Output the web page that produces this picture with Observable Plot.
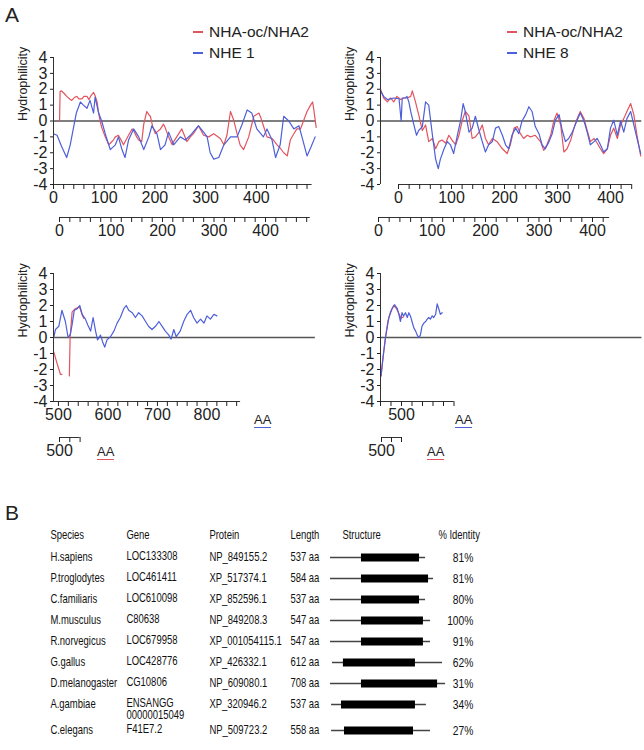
<!DOCTYPE html>
<html><head><meta charset="utf-8">
<script src="https://cdn.jsdelivr.net/npm/d3@7"></script>
<script src="https://cdn.jsdelivr.net/npm/@observablehq/plot@0.6"></script>
<style>
body{margin:0;background:#fff;}
#fig{position:relative;width:644px;height:750px;overflow:hidden;background:#fff;font-family:"Liberation Sans",Arial,sans-serif;color:#222;}
#fig > *{position:absolute;}
#fig svg{max-width:none !important;}
.lg{display:flex;align-items:center;font-size:15.5px;height:20px;white-space:nowrap;line-height:20px;}
.lg i{display:inline-block;width:10px;height:1.5px;margin-right:6px;}
.aa{font-size:13px;line-height:13px;padding-bottom:1px;}
.pl{font-size:21px;line-height:21px;}
</style></head><body><div id="fig"></div><script>
// ---------- Panel A data: [position, hydrophilicity] ----------
const tlNha2 = [[12,0.0],[13,1.85],[16,1.9],[22,1.7],[26,1.55],[33,1.35],[36,1.3],[42,1.5],[46,1.55],[50,1.4],[56,1.4],[60,1.55],[66,1.55],[70,1.35],[74,1.6],[79,1.8],[82,1.6],[86,1.2],[89,0.5],[92,0.0],[95,-0.4],[102,-1.0],[109,-1.5],[112,-1.4],[118,-1.2],[122,-1.0],[128,-0.9],[135,-1.3],[138,-1.5],[148,-0.9],[155,-0.5],[158,-0.6],[164,-1.0],[168,-1.2],[174,-1.3],[178,-0.2],[184,0.6],[188,0.4],[191,0.3],[196,-0.4],[201,-0.8],[204,-0.7],[211,-0.5],[217,-0.2],[220,-0.4],[227,-1.0],[234,-1.5],[237,-1.3],[243,-1.0],[253,-0.5],[258,-0.9],[263,-1.3],[270,-1.0],[276,-0.8],[286,-0.3],[296,-0.9],[306,-1.0],[316,-0.8],[329,-1.1],[336,-1.5],[342,-0.9],[349,0.6],[355,0.1],[362,-0.8],[368,-1.5],[375,-1.8],[385,-1.0],[395,0.3],[405,0.5],[409,0.2],[414,-0.3],[421,-1.0],[431,-1.1],[441,-1.5],[447,-1.7],[454,-2.0],[461,-2.2],[467,-1.2],[474,-0.8],[480,-0.5],[487,-0.5],[493,0.0],[500,0.6],[507,1.0],[511,1.2],[513,0.8],[518,-0.4]];
const tlNhe1 = [[0,-0.8],[7,-0.9],[16,-1.6],[26,-2.3],[33,-1.5],[39,-0.5],[45,0.5],[53,1.2],[59,1.0],[66,0.8],[72,1.3],[79,0.5],[82,1.5],[89,0.5],[95,0.0],[102,-0.8],[112,-1.8],[122,-1.5],[128,-1.0],[135,-1.8],[141,-2.3],[148,-1.2],[158,-0.5],[168,-1.0],[178,-1.8],[188,-1.0],[194,-0.3],[204,-0.8],[211,-1.8],[220,-1.5],[227,-0.7],[237,-1.5],[250,-1.0],[260,-1.2],[270,-0.9],[286,-0.3],[296,-0.7],[303,-1.0],[309,-2.0],[316,-2.4],[326,-2.3],[336,-1.5],[349,-1.0],[362,-1.0],[372,-0.2],[382,0.7],[391,0.5],[401,-0.5],[414,-1.0],[421,-0.5],[431,-1.2],[438,-2.3],[447,-1.5],[454,0.3],[464,0.0],[474,-0.5],[484,-0.3],[490,-1.0],[500,-2.2],[507,-1.7],[516,-1.0]];
const trNha2 = [[-34,2.0],[-28,1.45],[-21,1.2],[-15,1.45],[-9,1.2],[-3,1.55],[4,1.35],[10,1.45],[16,1.45],[23,1.55],[26,1.9],[32,1.2],[38,0.4],[45,-0.6],[51,-0.25],[57,-1.3],[64,-1.1],[70,-1.75],[76,-1.3],[82,-1.2],[89,-1.4],[95,-0.9],[101,-1.2],[108,-1.5],[114,-0.9],[120,0.0],[126,0.6],[133,0.3],[139,-1.1],[145,-1.0],[152,-0.7],[158,-0.25],[164,-1.1],[170,-1.5],[177,-1.1],[186,-1.3],[196,-1.75],[205,-2.05],[211,-1.5],[218,-0.45],[224,-0.35],[230,-0.8],[236,-1.1],[243,-0.9],[249,-1.0],[258,-0.9],[268,-1.3],[274,-1.85],[280,-1.5],[287,-0.9],[293,0.0],[299,0.5],[306,-0.25],[312,-1.95],[318,-1.75],[325,-1.2],[331,-0.45],[337,0.15],[343,0.6],[350,0.15],[356,-0.6],[362,-1.3],[369,-1.1],[375,-1.4],[381,-1.75],[387,-2.05],[394,-1.75],[400,-0.9],[406,-0.45],[413,-1.1],[419,-0.25],[425,0.15],[431,0.6],[438,1.1],[444,0.4],[450,-0.9],[457,-2.2]];
const trNhe8 = [[-34,1.9],[-28,1.55],[-21,1.35],[-9,1.45],[1,1.4],[5,0.0],[7,1.45],[13,1.45],[16,1.55],[19.5,1.2],[23,0.6],[29,-0.25],[34,-0.9],[38,-0.6],[45,-0.35],[51,1.2],[57,1.0],[64,-0.9],[70,-2.4],[75,-3.0],[79,-2.4],[86,-1.75],[92,-1.3],[98,-1.5],[104,-2.05],[111,-0.9],[117,0.0],[122,1.1],[126,0.6],[133,-0.7],[139,-0.45],[145,0.3],[152,-0.6],[158,-1.3],[164,-1.95],[170,-1.5],[177,-1.3],[183,-0.45],[189,-0.35],[196,-0.9],[202,-1.5],[208,-1.75],[214,-0.9],[221,-0.45],[227,-0.8],[233,0.0],[240,0.4],[246,0.9],[252,0.6],[258,-0.35],[265,-0.8],[271,-1.5],[277,-1.75],[284,-1.3],[290,-0.8],[296,0.05],[303,0.4],[309,-0.6],[315,-1.3],[321,-1.1],[328,-0.7],[337,0.05],[343,0.5],[350,0.0],[356,-0.7],[362,-1.5],[369,-1.3],[375,-1.1],[381,-1.5],[387,-1.95],[394,-1.75],[400,-0.45],[406,0.05],[413,-0.9],[419,0.0],[425,-0.7],[431,0.15],[438,0.6],[444,-0.25],[450,-1.1],[457,-2.05]];
const blNha2 = [[490.5,-0.9],[497,-1.6],[504,-2.3],[507,-2.3],[515,null],[522,-2.4],[523.6,0],[527.6,1.6],[534,1.8],[541,1.9],[544,1.8],[548,1.4],[551,1.2]];
const blNhe1 = [[490.5,0],[494,0.5],[500.7,0.7],[507,1.7],[514,1.0],[519.5,0],[524,0.2],[527.6,0.8],[532,1.7],[538,1.8],[543,2.0],[548,1.45],[554.5,1.15],[559,0.8],[565,0.4],[570,1.25],[575,0.4],[579,-0.15],[585,0.15],[590,-0.35],[593.5,-0.6],[598,-0.15],[605,0.05],[612,0.4],[618.5,0.9],[625,1.25],[632,1.8],[637,2.0],[642,1.7],[649,1.55],[655.5,1.25],[662,1.55],[669,1.35],[676,1.0],[682,0.7],[689,0.5],[696,0.7],[703,1.0],[709.5,0.7],[716,0.4],[723,0.15],[727.6,-0.1],[733,0.5],[738,0.05],[746,0.4],[753,1.0],[760,1.45],[767,1.7],[773,1.25],[780,0.9],[787,1.15],[794,0.9],[800,1.35],[807,1.15],[814,1.45],[820,1.35]];
const brNha2 = [[461,-2.4],[465,-1.2],[469.5,0],[474,1.0],[479,1.6],[485,2.0],[490.5,1.8],[495,1.5],[499,1.2],[504,1.3]];
const brNhe8 = [[461,-2.4],[465,-1.2],[469.5,0],[476,1.25],[482,1.8],[486.7,2.05],[492,1.8],[495,1.45],[498,1.0],[501,1.55],[504,1.35],[507.6,1.55],[511,1.25],[514,1.55],[517,1.35],[520,1.0],[523.5,0.6],[527,0.4],[530,0.15],[533,0],[536,0.15],[539,0.7],[542.5,0.9],[546,1.0],[549,1.15],[552,1.25],[555,1.15],[558.5,1.35],[561.5,1.25],[565,1.45],[568,2.1],[571,1.8],[574,1.45],[577.5,1.55]];

const yTicks = [-4,-3,-2,-1,0,1,2,3,4];
const tlTicks = d3.range(0, 501, 20), tlLabels = [0,100,200,300,400];
const tl2Ticks = d3.range(0, 481, 20), tl2Labels = [0,100,200,300,400];
const trTicks = d3.range(0, 441, 20), trLabels = [0,100,200,300,400];
const tr2Ticks = d3.range(0, 421, 20), tr2Labels = [0,100,200,300,400];
const blTicks = d3.range(500, 861, 20), blLabels = [500,600,700,800];
const bl2Ticks = [500,520,540], bl2Labels = [500];
const brTicks = d3.range(460, 601, 20), brLabels = [500];
const br2Ticks = [500,520,540], br2Labels = [500];

// ---------- Panel B data ----------
const species = ["H.sapiens","P.troglodytes","C.familiaris","M.musculus","R.norvegicus","G.gallus","D.melanogaster","A.gambiae","C.elegans"];
const genes = ["LOC133308","LOC461411","LOC610098","C80638","LOC679958","LOC428776","CG10806","ENSANGG\n00000015049","F41E7.2"];
const proteins = ["NP_849155.2","XP_517374.1","XP_852596.1","NP_849208.3","XP_001054115.1","XP_426332.1","NP_609080.1","XP_320946.2","NP_509723.2"];
const lengths = [537,584,537,547,547,612,708,537,558];
const identity = [81,81,80,100,91,62,31,34,27];
const lineStart = [0,0,0,0,0,11,0,6,6];
const lineEnd = [537,582,537,565,565,633,650,542,565];
const domStart = [175,175,175,175,175,73,175,62,79];
const domEnd = [503,554,503,525,525,480,605,480,469];
const headers = ["Species","Gene","Protein","Length","Structure","% Identity"];

const RED = "#e4545e", BLUE = "#4d5fd9";
const FONT = '"Liberation Sans", Arial, sans-serif';
const fig = document.getElementById("fig");
const hy = d => d < 0 ? "-" + Math.abs(d) : String(d);
const pt = arr => arr.map(([x, y]) => ({x, y: y == null ? NaN : y}));

function place(el, left, top) { el.style.left = left + "px"; el.style.top = top + "px"; fig.appendChild(el); }

function hydro(o) {
  return Plot.plot({
    width: o.width, height: o.height,
    marginLeft: o.ml, marginRight: o.mr, marginTop: o.mt, marginBottom: o.mb,
    x: {domain: o.xDomain},
    y: {domain: [-4, 4]},
    style: {fontFamily: FONT, fontSize: "16px", color: "#222", background: "transparent", overflow: "visible"},
    marks: [
      Plot.ruleY([0], {x1: o.zero[0], x2: o.zero[1], stroke: "#555", strokeWidth: 1.6}),
      Plot.line(pt(o.red), {x: "x", y: "y", stroke: RED, strokeWidth: 1.2}),
      Plot.line(pt(o.blue), {x: "x", y: "y", stroke: BLUE, strokeWidth: 1.2}),
      Plot.ruleX([o.xDomain[0]], {y1: -4, y2: 4, stroke: "#333"}),
      Plot.ruleY([-4], {x1: o.axis[0], x2: o.axis[1], stroke: "#333"}),
      Plot.axisY({ticks: yTicks, tickFormat: hy, tickSize: 3, tickPadding: 3, label: null, fontSize: 16}),
      Plot.axisX({ticks: o.ticks, tickFormat: d => o.labels.includes(d) ? String(d) : "", tickSize: 5, tickPadding: 2, label: null, fontSize: 16}),
      Plot.text(["Hydrophilicity"], {frameAnchor: "left", dx: -31, rotate: -90, fontSize: 12.5, fill: "#222"})
    ]
  });
}

function subAxis(o) {
  return Plot.plot({
    width: o.width, height: 55, marginLeft: o.ml, marginRight: 0, marginTop: 26, marginBottom: 28,
    x: {domain: o.xDomain},
    y: {domain: [0, 1], axis: null},
    style: {fontFamily: FONT, fontSize: "16px", color: "#222", background: "transparent", overflow: "visible"},
    marks: [
      Plot.ruleY([0], {x1: o.axis[0], x2: o.axis[1], stroke: "#333"}),
      Plot.axisX({ticks: o.ticks, tickFormat: d => o.labels.includes(d) ? String(d) : "", tickSize: 5, tickPadding: 2, label: null, fontSize: 16})
    ]
  });
}

// Top-left
place(hydro({width: 320, height: 215, ml: 53, mr: 8.4, mt: 57, mb: 31, xDomain: [0, 510], zero: [0, 517], axis: [0, 510], ticks: tlTicks, labels: tlLabels, red: tlNha2, blue: tlNhe1}), 0, 0);
place(subAxis({width: 320, ml: 59, xDomain: [0, 506.8], axis: [0, 487], ticks: tl2Ticks, labels: tl2Labels}), 0, 190);
// Top-right
place(hydro({width: 334, height: 215, ml: 70, mr: 12.8, mt: 57, mb: 31, xDomain: [-34, 440], zero: [-34, 459], axis: [0, 440], ticks: trTicks, labels: trLabels, red: trNha2, blue: trNhe8}), 310, 0);
place(subAxis({width: 334, ml: 68, xDomain: [0, 497.2], axis: [0, 432], ticks: tr2Ticks, labels: tr2Labels}), 310, 190);
// Bottom-left
place(hydro({width: 320, height: 180, ml: 53, mr: 5, mt: 23, mb: 29, xDomain: [490, 1019.3], zero: [490, 1019], axis: [490, 868], ticks: blTicks, labels: blLabels, red: blNha2, blue: blNhe1}), 0, 250);
place(subAxis({width: 320, ml: 59, xDomain: [500, 1006.8], axis: [500, 540], ticks: bl2Ticks, labels: bl2Labels}), 0, 410);
// Bottom-right
place(hydro({width: 334, height: 180, ml: 70, mr: 0, mt: 23, mb: 29, xDomain: [460, 962.9], zero: [460, 958], axis: [460, 600], ticks: brTicks, labels: brLabels, red: brNha2, blue: brNhe8}), 310, 250);
place(subAxis({width: 334, ml: 71, xDomain: [500, 1026], axis: [500, 540], ticks: br2Ticks, labels: br2Labels}), 310, 410);

// Legends and labels (HTML text)
function html(tag, cls, inner) { const e = document.createElement(tag); e.className = cls; e.innerHTML = inner; return e; }
const legends = [[193, 22, RED, "NHA-oc/NHA2"], [193, 43, BLUE, "NHE 1"], [507, 22, RED, "NHA-oc/NHA2"], [507, 43, BLUE, "NHE 8"]];
for (const [l, t, c, s] of legends) place(html("div", "lg", `<i style="background:${c}"></i><span>${s}</span>`), l, t);
const aaLabels = [[254, 413, BLUE], [97, 445, RED], [455, 413, BLUE], [427, 445, RED]];
for (const [l, t, c] of aaLabels) { const e = html("div", "aa", "AA"); e.style.borderBottom = `1.5px solid ${c}`; place(e, l, t); }
place(html("div", "pl", "A"), 5, 4);
place(html("div", "pl", "B"), 5, 502);

// ---------- Panel B (drawn wide, condensed horizontally) ----------
const K = 0.79;
const extra = genes.map(g => g.split("\n").length - 1);
const rows = species.map((s, i) => ({
  species: s, gene: genes[i], protein: proteins[i], length: lengths[i] + " aa", ident: identity[i] + "%",
  pos: i + 0.24 * d3.sum(extra.slice(0, i)),
  ls: lineStart[i], le: lineEnd[i], ds: domStart[i], de: domEnd[i]
}));
const HEADER_Y = -1.08;
const colX = [50, 126, 209, 290, 342, 438].map(v => v / K);
const pctRight = 473 / K;
const txt = {fontSize: 12, fill: "#111", frameAnchor: "left", textAnchor: "start"};
const pb = Plot.plot({
  width: Math.ceil(644 / K), height: 240, margin: 0,
  x: {domain: [0, 700], range: [330 / K, (330 + 700 * 0.177) / K], axis: null},
  y: {domain: [0, 1], range: [47, 68.0], axis: null},
  style: {fontFamily: FONT, fontSize: "12px", color: "#111", background: "transparent", overflow: "visible"},
  marks: [
    ...headers.map((h, j) => Plot.text([h], {...txt, y: HEADER_Y, dx: colX[j]})),
    Plot.text(rows, {...txt, y: "pos", text: "species", dx: colX[0]}),
    Plot.text(rows, {...txt, y: "pos", text: "gene", dx: colX[1], lineAnchor: "top", dy: -6.5, lineHeight: 1.0}),
    Plot.text(rows, {...txt, y: "pos", text: "protein", dx: colX[2]}),
    Plot.text(rows, {...txt, y: "pos", text: "length", dx: colX[3]}),
    Plot.text(rows, {...txt, y: "pos", text: "ident", dx: pctRight, textAnchor: "end", fontSize: 13}),
    Plot.ruleY(rows, {y: "pos", x1: "ls", x2: "le", stroke: "#444", strokeWidth: 1.5}),
    Plot.ruleY(rows, {y: "pos", x1: "ds", x2: "de", stroke: "#000", strokeWidth: 8})
  ]
});
pb.style.transform = `scaleX(${K})`;
pb.style.transformOrigin = "0 0";
place(pb, 0, 510);
</script></body></html>
